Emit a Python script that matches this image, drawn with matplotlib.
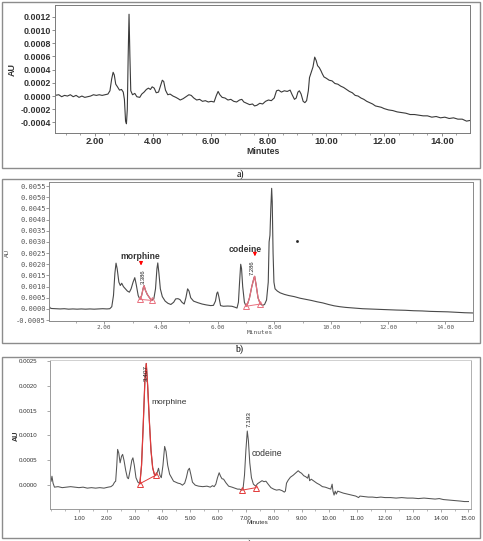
import matplotlib
matplotlib.use("Agg")

import matplotlib.pyplot as plt
import numpy as np
from matplotlib.patches import Rectangle
from matplotlib.ticker import MultipleLocator


W, H = 483, 541
SCALE = 1e-4  # trace values below are written in units of 1e-4 AU

# ---- panel a: blank / background chromatogram ----
A_TIME = [0.62, 0.75, 0.85, 0.95, 1.05, 1.15, 1.25, 1.35, 1.45, 1.55, 1.65, 1.75, 1.85, 1.95,
          2.05, 2.15, 2.25, 2.35, 2.45, 2.52, 2.58, 2.63, 2.67, 2.72, 2.78, 2.85, 2.92, 2.98,
          3.02, 3.06, 3.09, 3.12, 3.15, 3.18, 3.21, 3.24, 3.30, 3.38, 3.45, 3.55, 3.62, 3.70,
          3.78, 3.85, 3.92, 3.98, 4.05, 4.12, 4.20, 4.27, 4.33, 4.38, 4.44, 4.52, 4.60, 4.70,
          4.80, 4.88, 4.95, 5.05, 5.15, 5.25, 5.33, 5.42, 5.52, 5.62, 5.72, 5.82, 5.92, 6.02,
          6.12, 6.20, 6.26, 6.32, 6.40, 6.50, 6.60, 6.70, 6.80, 6.90, 7.00, 7.08, 7.15, 7.25,
          7.35, 7.45, 7.52, 7.60, 7.70, 7.80, 7.90, 8.00, 8.10, 8.20, 8.28, 8.35, 8.45, 8.55,
          8.65, 8.75, 8.82, 8.90, 8.96, 9.02, 9.07, 9.13, 9.20, 9.26, 9.32, 9.38, 9.42, 9.48,
          9.54, 9.60, 9.65, 9.70, 9.76, 9.82, 9.86, 9.92, 10.00, 10.10, 10.20, 10.30, 10.40,
          10.50, 10.60, 10.70, 10.80, 10.90, 11.00, 11.10, 11.20, 11.30, 11.40, 11.50, 11.60,
          11.70, 11.80, 11.90, 12.00, 12.15, 12.30, 12.45, 12.60, 12.75, 12.90, 13.05, 13.20,
          13.35, 13.50, 13.65, 13.80, 13.95, 14.10, 14.25, 14.40, 14.55, 14.70, 14.85, 14.97]
A_VALUE = [0.1, 0.2, -0.1, 0.1, 0.0, 0.2, -0.1, 0.1, -0.2, 0.0, -0.2, -0.1, 0.0, 0.2,
           0.1, 0.2, 0.1, 0.2, 0.3, 0.8, 2.6, 3.6, 3.2, 1.8, 1.4, 0.9, 1.0, 0.6,
           -0.5, -3.8, -4.2, -2.0, 6.0, 12.4, 6.0, 0.8, 0.2, 0.4, -0.1, -0.2, 0.3, 0.6,
           1.0, 1.2, 1.0, 1.4, 1.2, 0.5, 0.6, 1.6, 2.4, 2.2, 0.9, 0.2, 0.3, 0.0,
           -0.2, -0.4, -0.6, -0.4, -0.1, 0.2, 0.1, -0.3, -0.6, -0.5, -0.8, -0.7, -0.9, -0.8,
           -0.9, 0.1, 0.7, 0.2, -0.2, -0.3, -0.6, -0.5, -0.8, -0.9, -0.6, -0.5, -0.9, -1.1,
           -1.3, -1.2, -1.5, -1.4, -1.1, -1.2, -0.8, -0.6, -0.7, -0.3, 0.8, 0.9, 0.6, 0.8,
           0.7, 0.9, 0.2, -0.5, -0.3, 0.6, 0.8, 0.3, -0.8, -1.0, -0.7, 0.8, 2.8, 3.6,
           4.4, 5.9, 5.4, 4.6, 4.3, 3.8, 3.4, 2.9, 2.7, 2.4, 2.3, 1.9, 1.8,
           1.5, 1.3, 1.0, 0.7, 0.5, 0.1, 0.0, -0.3, -0.5, -0.8, -1.0, -1.2,
           -1.5, -1.6, -1.7, -1.9, -2.1, -2.2, -2.4, -2.5, -2.6, -2.8, -2.8, -2.9,
           -3.0, -3.0, -3.2, -3.1, -3.3, -3.2, -3.4, -3.3, -3.5, -3.5, -3.8, -3.7]

# ---- panel b: standard mixture ----
B_TIME = [0.07, 0.10, 0.15, 0.30, 0.45, 0.60, 0.75, 0.90, 1.05, 1.20, 1.35, 1.50, 1.65, 1.80,
          1.95, 2.10, 2.20, 2.27, 2.33, 2.38, 2.42, 2.46, 2.52, 2.57, 2.62, 2.68, 2.75, 2.82,
          2.89, 2.95, 3.02, 3.08, 3.13, 3.20, 3.26, 3.32, 3.38, 3.41, 3.45, 3.52, 3.60, 3.68,
          3.75, 3.81, 3.86, 3.89, 3.93, 3.98, 4.05, 4.15, 4.25, 4.35, 4.45, 4.52, 4.60, 4.67,
          4.74, 4.82, 4.88, 4.94, 4.99, 5.05, 5.15, 5.30, 5.45, 5.60, 5.75, 5.85, 5.92, 5.97,
          6.00, 6.04, 6.10, 6.20, 6.35, 6.50, 6.60, 6.68, 6.73, 6.77, 6.81, 6.84, 6.88, 6.94,
          7.00, 7.05, 7.12, 7.20, 7.28, 7.30, 7.35, 7.42, 7.50, 7.58, 7.65, 7.72, 7.78, 7.81,
          7.84, 7.87, 7.90, 7.92, 7.95, 7.98, 8.02, 8.10, 8.20, 8.35, 8.50, 8.70, 8.90, 9.10,
          9.30, 9.50, 9.70, 9.90, 10.10, 10.30, 10.50, 10.70, 10.90, 11.10, 11.30, 11.50,
          11.70, 11.90, 12.10, 12.30, 12.60, 12.90, 13.20, 13.50, 13.80, 14.10, 14.40, 14.70,
          14.98]
B_VALUE = [1.2, 0.4, 0.2, 0.1, 0.0, 0.1, -0.1, 0.0, -0.1, 0.0, -0.1, 0.0, -0.1, 0.0,
           0.1, 0.0, 0.1, 1.0, 6.0, 16.0, 20.5, 18.0, 12.0, 10.5, 11.5, 10.0, 9.0, 8.0,
           7.5, 9.0, 12.0, 14.0, 11.0, 6.0, 4.3, 6.0, 9.5, 10.4, 8.5, 6.5, 5.0, 3.8,
           4.5, 9.0, 18.0, 20.6, 16.0, 9.0, 5.5, 3.5, 2.5, 2.0, 3.0, 4.5, 4.6, 4.2,
           3.0, 2.2, 5.0, 9.0, 8.0, 5.0, 3.5, 2.8, 2.2, 1.8, 1.5, 1.6, 3.5, 7.0,
           7.6, 5.5, 1.5, 1.2, 1.3, 1.2, 0.8, 0.4, 3.0, 12.0, 20.0, 18.0, 10.0, 3.0,
           1.2, 2.2, 5.0, 10.0, 14.0, 14.6, 11.0, 5.0, 2.2, 1.6, 2.0, 4.0, 12.0, 30.0,
           33.0, 45.0, 54.0, 48.0, 25.0, 12.0, 9.0, 8.0, 7.2, 6.5, 6.0, 5.5, 4.8, 4.3,
           3.8, 3.2, 2.7, 2.0, 1.4, 1.0, 0.7, 0.5, 0.3, 0.1, 0.0, -0.1,
           -0.2, -0.3, -0.4, -0.5, -0.6, -0.8, -0.9, -1.1, -1.2, -1.3, -1.5, -1.7,
           -1.8]
B_MORPHINE_BASE = ([3.26, 3.68], [4.3, 3.8])
B_CODEINE_BASE = ([7.00, 7.50], [1.2, 2.2])
B_STRAY_DOT = ([8.78], [30.3])

# ---- panel c: sample ----
C_TIME = [0.00, 0.03, 0.07, 0.12, 0.25, 0.40, 0.55, 0.70, 0.85, 1.00, 1.15, 1.30, 1.45, 1.60,
          1.75, 1.90, 2.05, 2.15, 2.22, 2.28, 2.32, 2.36, 2.39, 2.43, 2.48, 2.53, 2.57, 2.62,
          2.68, 2.74, 2.78, 2.84, 2.90, 2.94, 2.99, 3.05, 3.12, 3.19, 3.25, 3.31, 3.37, 3.42,
          3.47, 3.53, 3.59, 3.65, 3.71, 3.76, 3.81, 3.86, 3.91, 3.96, 4.02, 4.08, 4.13, 4.19,
          4.26, 4.33, 4.40, 4.48, 4.56, 4.64, 4.72, 4.80, 4.86, 4.92, 4.97, 5.02, 5.08, 5.18,
          5.30, 5.45, 5.60, 5.72, 5.80, 5.86, 5.92, 5.98, 6.04, 6.09, 6.14, 6.20, 6.28, 6.38,
          6.50, 6.60, 6.70, 6.78, 6.84, 6.90, 6.95, 7.00, 7.05, 7.09, 7.14, 7.20, 7.27, 7.35,
          7.42, 7.50, 7.58, 7.65, 7.72, 7.80, 7.90, 8.00, 8.10, 8.20, 8.30, 8.38, 8.42, 8.46,
          8.52, 8.60, 8.70, 8.80, 8.88, 8.94, 9.00, 9.08, 9.15, 9.22, 9.26, 9.29, 9.35, 9.45,
          9.55, 9.65, 9.75, 9.85, 9.95, 10.05, 10.10, 10.13, 10.17, 10.21, 10.25, 10.30, 10.40,
          10.50, 10.65, 10.80, 10.95, 11.05, 11.10, 11.25, 11.40, 11.55, 11.70, 11.85, 12.00,
          12.20, 12.40, 12.60, 12.80, 13.00, 13.20, 13.40, 13.60, 13.80, 13.95, 14.10, 14.30,
          14.50, 14.70, 14.85, 15.00]
C_VALUE = [0.8, 1.8, 0.4, -0.4, -0.3, -0.5, -0.4, -0.3, -0.4, -0.5, -0.4, -0.6, -0.5, -0.6,
           -0.5, -0.6, -0.4, -0.3, 0.0, 0.6, 0.8, 4.0, 7.2, 6.5, 4.5, 5.8, 6.2, 5.0,
           3.0, 1.5, 1.3, 3.0, 5.0, 5.5, 4.0, 1.5, 0.6, 0.3, 4.0, 12.0, 21.0, 24.5,
           20.0, 13.0, 7.0, 3.5, 2.2, 2.0, 2.5, 3.4, 2.0, 1.5, 4.0, 7.8, 6.8, 4.0,
           2.2, 1.5, 0.8, 0.6, 0.4, 0.3, 0.0, 0.4, 1.5, 3.0, 3.4, 2.2, 0.6, 0.0,
           -0.2, -0.3, -0.2, -0.4, -0.1, -0.3, 0.2, 1.5, 2.5, 1.8, 1.3, 1.2, 0.5, -0.2,
           -0.4, -0.6, -0.8, -0.8, -1.0, -0.6, 2.0, 7.0, 10.9, 9.0, 4.5, 1.5, 0.2, -0.2,
           0.3, 0.6, 0.9, 0.7, 0.8, 0.2, -0.5, -0.8, -1.0, -0.9, -1.1, -1.4, -1.2, 0.4,
           1.0, 1.6, 2.0, 2.5, 2.9, 2.6, 2.4, 1.9, 1.7, 1.4, 2.2, 0.9, 1.2, 0.8,
           0.4, 0.1, -0.3, -0.4, -0.6, -0.8, 0.2, -1.2, -2.0, -1.2, -1.8, -1.2, -1.4,
           -1.6, -1.8, -2.0, -2.2, -2.5, -2.2, -2.3, -2.4, -2.4, -2.5, -2.4, -2.5,
           -2.5, -2.6, -2.5, -2.6, -2.6, -2.7, -2.6, -2.7, -2.8, -2.7, -2.9, -3.0,
           -3.1, -3.2, -3.3, -3.3]
C_MORPHINE_BASE = ([3.19, 3.76], [0.3, 2.0])
C_CODEINE_BASE = ([6.87, 7.37], [-1.0, -0.5])

A_YTICKS = [-0.0004, -0.0002, 0.0, 0.0002, 0.0004, 0.0006, 0.0008, 0.0010, 0.0012]
B_YTICKS = [-0.0005, 0.0, 0.0005, 0.0010, 0.0015, 0.0020, 0.0025, 0.0030, 0.0035,
            0.0040, 0.0045, 0.0050, 0.0055]
C_YTICKS = [0.0, 0.0005, 0.0010, 0.0015, 0.0020, 0.0025]
A_XTICKS = [2, 4, 6, 8, 10, 12, 14]
B_XTICKS = [2, 4, 6, 8, 10, 12, 14]
C_XTICKS = list(range(1, 16))

TRACE_A = "#3a3a3a"
TRACE_B = "#4a4a4a"
TRACE_C = "#555555"
PINK = "#e8707e"
RED = "#e23a3a"
FRAME = "#8c8c8c"


def px_rect(left, top, right, bottom):
    return [left / W, 1 - bottom / H, (right - left) / W, (bottom - top) / H]


def fig_text(fig, x, y, s, **kw):
    fig.text(x / W, 1 - y / H, s, ha="center", va="center", **kw)


def scaled(values):
    return np.asarray(values) * SCALE


def segment(times, values, t0, t1):
    t = np.asarray(times)
    mask = (t >= t0 - 1e-9) & (t <= t1 + 1e-9)
    return t[mask], scaled(values)[mask]


def style_axis(ax, xticks, yticks, tick_font, xsize, ysize, color, minor_x, spine_color):
    ax.set_xticks(xticks)
    ax.set_xticklabels([f"{v:.2f}" for v in xticks], family=tick_font["family"],
                       weight=tick_font["weight"], size=xsize, color=color)
    ax.set_yticks(yticks)
    ax.set_yticklabels([f"{v:.4f}" for v in yticks], family=tick_font["family"],
                       weight=tick_font["weight"], size=ysize, color=color)
    ax.xaxis.set_minor_locator(MultipleLocator(minor_x))
    ax.tick_params(which="major", length=2.2, width=0.6, color=spine_color)
    ax.tick_params(which="minor", length=1.3, width=0.5, color=spine_color)
    for sp in ax.spines.values():
        sp.set_color(spine_color)
        sp.set_linewidth(0.7)


fig = plt.figure(figsize=(W / 100, H / 100), dpi=100)

# outer panel frames
for x0, y0, x1, y1 in [(2, 2, 480, 168), (2, 179, 480, 343), (2, 357, 480, 538)]:
    fig.patches.append(Rectangle((x0 / W, 1 - y1 / H), (x1 - x0) / W, (y1 - y0) / H,
                                 transform=fig.transFigure, fill=False, ec=FRAME, lw=1.0))

fig_text(fig, 240, 174, "a)", family="Liberation Serif", size=7)
fig_text(fig, 239, 349, "b)", family="Liberation Serif", size=7)
fig_text(fig, 248, 544, "c)", family="Liberation Serif", size=7)

# ---------------- panel a ----------------
ax_a = fig.add_axes(px_rect(55, 5, 470, 133))
ax_a.plot(A_TIME, scaled(A_VALUE), color=TRACE_A, lw=0.8)
ax_a.set_xlim(0.62, 14.97)
ax_a.set_ylim(-0.00056, 0.00138)
style_axis(ax_a, A_XTICKS, A_YTICKS, {"family": "Liberation Sans", "weight": "bold"},
           6.8, 6.4, "#333333", 0.5, "#7a7a7a")
ax_a.tick_params(axis="y", pad=0.5)
ax_a.tick_params(axis="x", pad=1.0)
fig_text(fig, 12, 70, "AU", family="Liberation Sans", weight="bold", size=6.5,
         rotation=90, color="#333333")
fig_text(fig, 263, 151, "Minutes", family="Liberation Sans", weight="bold", size=6.3,
         color="#333333")

# ---------------- panel b ----------------
ax_b = fig.add_axes(px_rect(49.3, 182.3, 473, 321))
ax_b.plot(B_TIME, scaled(B_VALUE), color=TRACE_B, lw=0.8)
for base in (B_MORPHINE_BASE, B_CODEINE_BASE):
    t_seg, v_seg = segment(B_TIME, B_VALUE, base[0][0], base[0][1])
    ax_b.plot(t_seg, v_seg, color=PINK, lw=0.9)
    ax_b.plot(base[0], scaled(base[1]), color=PINK, lw=0.7)
    ax_b.plot(base[0], scaled(base[1]), ls="none", marker="^", ms=4, mfc="none",
              mec=PINK, mew=0.7)
ax_b.plot(B_STRAY_DOT[0], scaled(B_STRAY_DOT[1]), ls="none", marker="s", ms=0.9, color="#222222")
ax_b.set_xlim(0.07, 14.99)
ax_b.set_ylim(-0.00054, 0.00567)
style_axis(ax_b, B_XTICKS, B_YTICKS, {"family": "DejaVu Sans Mono", "weight": "normal"},
           4.3, 5.0, "#555555", 1.0, "#8a8a8a")
ax_b.tick_params(axis="y", pad=0.3)
ax_b.tick_params(axis="x", pad=0.6)

ax_b.text(3.29, 0.00233, "morphine", ha="center", va="center", family="Liberation Sans",
          weight="bold", size=6.2, color="#333333")
ax_b.annotate("", xy=(3.30, 0.00182), xytext=(3.30, 0.00218),
              arrowprops=dict(arrowstyle="-|>", color="red", lw=0.8, mutation_scale=5))
ax_b.text(3.39, 0.00146, "3.386", ha="center", va="center", rotation=90,
          family="Liberation Sans", size=4.2, color="#222222")
ax_b.text(6.96, 0.00265, "codeine", ha="center", va="center", family="Liberation Sans",
          weight="bold", size=6.2, color="#333333")
ax_b.annotate("", xy=(7.31, 0.00223), xytext=(7.31, 0.00260),
              arrowprops=dict(arrowstyle="-|>", color="red", lw=0.8, mutation_scale=5))
ax_b.text(7.20, 0.00184, "7.286", ha="center", va="center", rotation=90,
          family="Liberation Sans", size=4.2, color="#222222")
fig_text(fig, 7, 253, "AU", family="Liberation Sans", size=4.2, rotation=90, color="#444444")
fig_text(fig, 260, 333, "Minutes", family="DejaVu Sans Mono", size=4.5, color="#555555")

# ---------------- panel c ----------------
ax_c = fig.add_axes(px_rect(50, 360, 470.7, 509))
ax_c.plot(C_TIME, scaled(C_VALUE), color=TRACE_C, lw=0.75)
t_seg, v_seg = segment(C_TIME, C_VALUE, C_MORPHINE_BASE[0][0], C_MORPHINE_BASE[0][1])
ax_c.plot(t_seg, v_seg, color=RED, lw=0.9)
for base in (C_MORPHINE_BASE, C_CODEINE_BASE):
    ax_c.plot(base[0], scaled(base[1]), color=RED, lw=0.7)
    ax_c.plot(base[0], scaled(base[1]), ls="none", marker="^", ms=4, mfc="none",
              mec=RED, mew=0.7)
ax_c.set_xlim(-0.04, 15.08)
ax_c.set_ylim(-0.00048, 0.00252)
style_axis(ax_c, C_XTICKS, C_YTICKS, {"family": "Liberation Sans", "weight": "normal"},
           4.3, 4.4, "#333333", 0.5, "#9a9a9a")
ax_c.spines["top"].set_color("#d0d0d0")
ax_c.spines["right"].set_color("#b0b0b0")
ax_c.tick_params(axis="y", pad=7)
ax_c.tick_params(axis="x", pad=2.5)

ax_c.text(3.41, 0.00225, "3.407", ha="center", va="center", rotation=90,
          family="Liberation Sans", size=4.6, color="#222222")
ax_c.text(3.61, 0.00166, "morphine", ha="left", va="center", family="Liberation Sans",
          size=6.0, color="#333333")
ax_c.text(7.13, 0.00134, "7.193", ha="center", va="center", rotation=90,
          family="Liberation Sans", size=4.6, color="#222222")
ax_c.text(7.21, 0.00064, "codeine", ha="left", va="center", family="Liberation Sans",
          size=6.2, color="#333333")
fig_text(fig, 16, 436, "AU", family="Liberation Sans", weight="bold", size=5.2,
         rotation=90, color="#333333")
fig_text(fig, 257, 522, "Minutes", family="Liberation Sans", size=4.5, color="#333333")

fig.savefig("out.png", dpi=100)
